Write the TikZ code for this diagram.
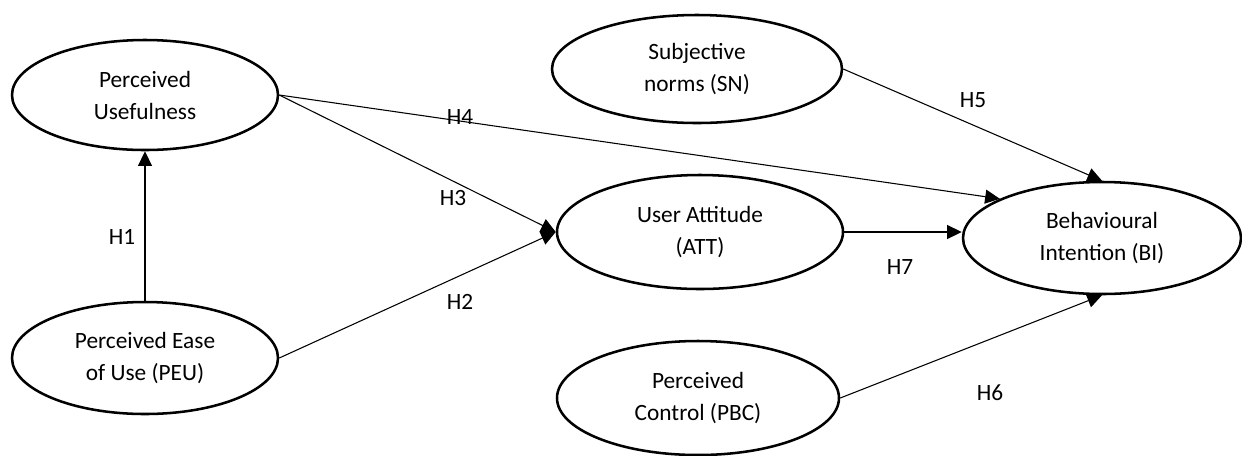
\documentclass[tikz,border=0pt]{standalone}
\usepackage{fontspec}
\setmainfont{Carlito}
\usetikzlibrary{shapes.geometric,arrows.meta}
\begin{document}
\begin{tikzpicture}[x=0.75pt,y=-0.75pt,
  construct/.style={draw,ellipse,line width=1.9pt,inner sep=0pt,align=center,
    font=\fontsize{17.5}{24}\selectfont},
  path/.style={line width=0.8pt,-{Triangle[length=11pt,width=10.5pt]}},
  hyp/.style={font=\fontsize{17.5}{24}\selectfont,inner sep=0pt}]
\useasboundingbox (0,0) rectangle (1242,455);
\node[construct,minimum width=199.5pt,minimum height=82.5pt] (pu) at (145,95) {Perceived\\Usefulness};
\node[construct,minimum width=199.5pt,minimum height=84pt] (peu) at (145,358) {Perceived Ease\\of Use (PEU)};
\node[construct,minimum width=217.5pt,minimum height=81pt] (sn) at (697,69) {Subjective\\norms (SN)};
\node[construct,minimum width=214.5pt,minimum height=85.5pt] (att) at (700,232) {User Attitude\\(ATT)};
\node[construct,minimum width=208.5pt,minimum height=84pt] (bi) at (1102,238) {Behavioural\\Intention (BI)};
\node[construct,minimum width=211.5pt,minimum height=85.5pt] (pbc) at (698,398) {Perceived\\Control (PBC)};
\draw[path] (peu.north) -- (pu.south);
\draw[path] (peu.east) -- (att.west);
\draw[path] (pu.east) -- (att.west);
\draw[path] (pu.east) -- (bi.159);
\draw[path] (sn.east) -- (bi.north);
\draw[path] (pbc.east) -- (bi.south);
\draw[path] (att.east) -- (att.east -| bi.west);
\node[hyp] (h1) at (122,237) {H1};
\node[hyp] (h2) at (460,302) {H2};
\node[hyp] (h3) at (453,198) {H3};
\node[hyp] (h4) at (460,117) {H4};
\node[hyp] (h5) at (973,100) {H5};
\node[hyp] (h6) at (990,393) {H6};
\node[hyp] (h7) at (900,267) {H7};
\end{tikzpicture}
\end{document}
